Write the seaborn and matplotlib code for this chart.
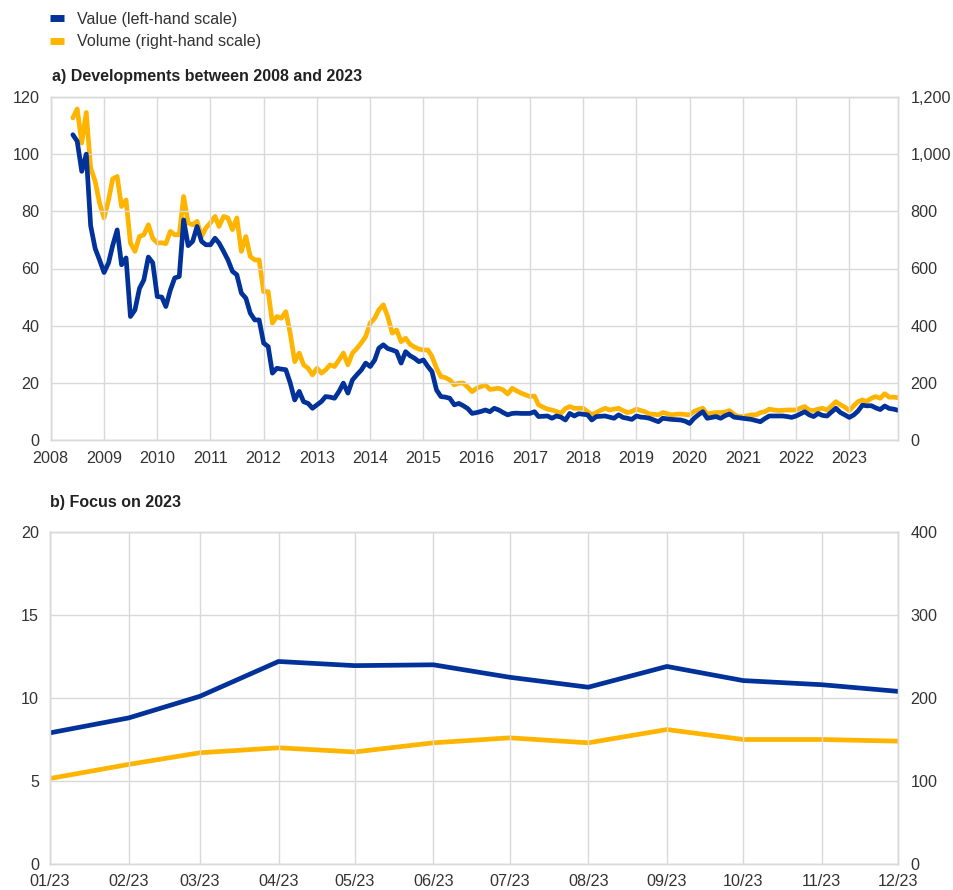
import numpy as np
import pandas as pd
import matplotlib
matplotlib.use("Agg")
import matplotlib.pyplot as plt
from matplotlib.lines import Line2D
from matplotlib.ticker import FuncFormatter
import seaborn as sns

# ---------------- data ----------------
start_month = "2008-06-01"
end_month = "2023-12-01"

value_2008_2022 = [
    106.8, 104.5, 94, 100, 75, 67, 63,
    58.6, 62, 68, 73.5, 61.3, 63.7, 43.2, 45.5, 53, 56, 64, 62,
    50.2, 50, 46.7, 52.5, 56.7, 57.2, 77, 68, 69.5, 74.7, 69.5, 68.3,
    68.3, 70.6, 68.9, 66, 63, 59, 57.8, 51.4, 49.6, 44.4, 42, 42,
    33.9, 32.7, 23.4, 25.1, 24.8, 24.6, 20, 14, 17, 13.4, 12.8, 11.1,
    12.3, 13.5, 15.2, 15, 14.6, 17, 19.9, 16.4, 21, 22.8, 24.5, 26.9,
    25.7, 28, 32.1, 33.3, 32, 31.5, 30.9, 26.9, 30.9, 29.5, 28.6, 27.4,
    28, 25.7, 23.9, 17.5, 15.2, 15.0, 14.6, 12.3, 12.8, 12.0, 11.0, 9.3,
    9.6, 10.0, 10.5, 9.9, 11.1, 10.5, 9.6, 8.8, 9.3, 9.4, 9.3, 9.3,
    9.3, 9.9, 8.2, 8.3, 8.4, 7.6, 8.4, 8.0, 7.0, 9.3, 8.4, 9.2,
    9.0, 8.8, 7.0, 8.2, 8.3, 8.4, 8.0, 7.6, 8.8, 7.9, 7.6, 7.2,
    8.4, 8.0, 7.9, 7.6, 7.0, 6.4, 7.6, 7.4, 7.2, 7.1, 7.0, 6.6,
    5.8, 7.6, 8.8, 9.9, 7.6, 7.9, 8.2, 7.6, 8.5, 9.1, 8.0, 7.8,
    7.6, 7.4, 7.2, 6.8, 6.4, 7.5, 8.4, 8.4, 8.4, 8.4, 8.2, 7.9,
    8.4, 9.2, 9.9, 8.8, 8.2, 9.3, 8.6, 8.4, 9.8, 11.1, 9.6, 8.8,
]

volume_2008_2022 = [
    1127, 1158, 1039, 1146, 952, 905, 829,
    777, 840, 913, 922, 817, 840, 689, 660, 712, 718, 753, 706,
    689, 690, 687, 730, 718, 718, 852, 759, 753, 765, 712, 742,
    760, 782, 747, 782, 777, 736, 777, 660, 712, 642, 630, 630,
    519, 519, 409, 432, 426, 449, 374, 274, 304, 263, 251, 228,
    251, 234, 245, 263, 257, 280, 304, 263, 304, 320, 340, 362,
    409, 426, 455, 473, 432, 374, 385, 344, 356, 335, 325, 318,
    315, 315, 292, 251, 222, 218, 210, 193, 199, 199, 185, 169,
    181, 187, 193, 177, 179, 181, 175, 161, 181, 172, 164, 158,
    152, 154, 123, 115, 108, 105, 100, 93, 110, 117, 111, 111,
    111, 99, 88, 96, 104, 111, 105, 108, 111, 103, 96, 100,
    108, 103, 99, 91, 90, 88, 96, 92, 88, 90, 91, 89,
    88, 100, 106, 111, 91, 94, 96, 96, 98, 103, 90, 82,
    82, 85, 88, 88, 96, 99, 108, 105, 103, 104, 105, 105,
    105, 112, 117, 105, 103, 108, 111, 105, 120, 134, 123, 115,
]

months_2023 = ["01/23", "02/23", "03/23", "04/23", "05/23", "06/23",
               "07/23", "08/23", "09/23", "10/23", "11/23", "12/23"]
value_2023 = [7.9, 8.8, 10.1, 12.2, 11.95, 12.0, 11.25, 10.65, 11.9, 11.05, 10.8, 10.4]
volume_2023 = [103, 120, 134, 140, 135, 146, 152, 146, 162, 150, 150, 148]

year_labels = [str(y) for y in range(2008, 2024)]

legend_labels = ["Value (left-hand scale)", "Volume (right-hand scale)"]
title_a = "a) Developments between 2008 and 2023"
title_b = "b) Focus on 2023"

# ---------------- style ----------------
sns.set_theme(style="white")
plt.rcParams["font.family"] = ["Liberation Sans", "DejaVu Sans"]

BLUE = "#003299"
YELLOW = "#FFB400"
GRID = "#d9d9d9"
TXT = "#333333"
FS = 11.6
LW = 3.4

dates_all = pd.date_range(start_month, end_month, freq="MS")
df_a = pd.DataFrame({
    "date": dates_all,
    "value": value_2008_2022 + value_2023,
    "volume": volume_2008_2022 + volume_2023,
})
dates_23 = pd.to_datetime(["20" + m[3:] + "-" + m[:2] + "-01" for m in months_2023])
df_b = pd.DataFrame({"date": dates_23, "value": value_2023, "volume": volume_2023})

W, H = 954, 890
fig = plt.figure(figsize=(W / 100, H / 100), dpi=100)


def px_axes(left, top, right, bottom):
    return fig.add_axes([left / W, 1 - bottom / H, (right - left) / W, (bottom - top) / H])


def style_axes(ax, ax2):
    for a in (ax, ax2):
        for s in a.spines.values():
            s.set_color(GRID)
            s.set_linewidth(1.0)
        a.tick_params(length=0, labelsize=FS, colors=TXT)
    ax.grid(True, color=GRID, linewidth=1.0)
    ax2.grid(False)
    ax.set_axisbelow(True)
    ax.set_xlabel("")
    ax.set_ylabel("")
    ax2.set_xlabel("")
    ax2.set_ylabel("")


# ---------------- panel a ----------------
ax = px_axes(50.7, 97, 898, 440)
ax2 = ax.twinx()
sns.lineplot(data=df_a, x="date", y="value", ax=ax, color=BLUE, linewidth=LW, legend=False)
sns.lineplot(data=df_a, x="date", y="volume", ax=ax2, color=YELLOW, linewidth=LW, legend=False)
ax.set_zorder(ax2.get_zorder() + 1)
ax.patch.set_visible(False)
ax.set_ylim(0, 120)
ax.set_yticks(np.arange(0, 121, 20))
ax2.set_ylim(0, 1200)
ax2.set_yticks(np.arange(0, 1201, 200))
ax2.yaxis.set_major_formatter(FuncFormatter(lambda v, p: f"{int(v):,}"))
ax.set_xlim(pd.Timestamp("2008-01-01"), pd.Timestamp(end_month))
ax.set_xticks(pd.to_datetime([y + "-01-01" for y in year_labels]))
ax.set_xticklabels(year_labels)
style_axes(ax, ax2)
ax.tick_params(axis="y", pad=8)
ax.tick_params(axis="x", pad=8)
ax2.tick_params(axis="y", pad=9)

# ---------------- panel b ----------------
bx = px_axes(50, 532, 898, 864)
bx2 = bx.twinx()
sns.lineplot(data=df_b, x="date", y="value", ax=bx, color=BLUE, linewidth=LW, legend=False)
sns.lineplot(data=df_b, x="date", y="volume", ax=bx2, color=YELLOW, linewidth=LW, legend=False)
bx.set_zorder(bx2.get_zorder() + 1)
bx.patch.set_visible(False)
bx.set_ylim(0, 20)
bx.set_yticks(np.arange(0, 21, 5))
bx2.set_ylim(0, 400)
bx2.set_yticks(np.arange(0, 401, 100))
bx.set_xlim(dates_23[0], dates_23[-1])
bx.set_xticks(dates_23)
bx.set_xticklabels(months_2023)
style_axes(bx, bx2)
bx.tick_params(axis="y", pad=8)
bx.tick_params(axis="x", pad=7)
bx2.tick_params(axis="y", pad=9)

# ---------------- titles & legend ----------------
fig.text(52 / W, 1 - 77 / H, title_a, fontsize=11.5, fontweight="bold", color="#222222", va="center", ha="left")
fig.text(50 / W, 1 - 503 / H, title_b, fontsize=11.5, fontweight="bold", color="#222222", va="center", ha="left")

handles = [Line2D([0], [0], color=BLUE, linewidth=5, solid_capstyle="butt"),
           Line2D([0], [0], color=YELLOW, linewidth=5, solid_capstyle="butt")]
fig.legend(handles, legend_labels, loc="upper left", bbox_to_anchor=(50 / W, 1 - 12 / H),
           frameon=False, fontsize=FS, handlelength=0.9, handletextpad=0.75,
           labelspacing=0.45, borderaxespad=0, borderpad=0, labelcolor=TXT)

fig.savefig("out.png", dpi=100)
